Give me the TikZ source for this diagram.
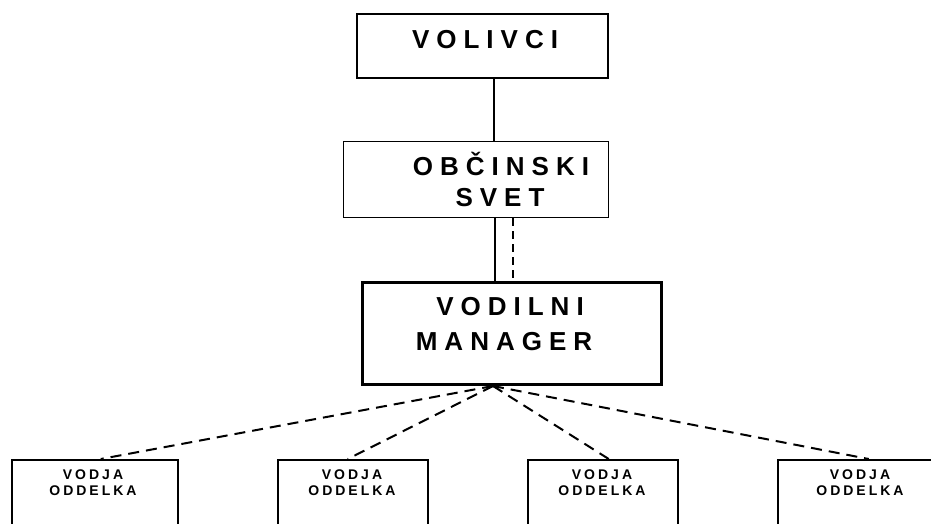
\documentclass[tikz,border=0pt]{standalone}
\usepackage{fontspec}
\setmainfont{Liberation Sans}
\newlength\lsp
\makeatletter
\def\spacedtext#1{\spaced@a#1\@nil}
\def\spaced@a#1#2\@nil{#1\if\relax\detokenize{#2}\relax\else\kern\lsp\spaced@a#2\@nil\fi}
\makeatother
\tikzset{
  box/.style={draw=black, line width=1.5pt, rectangle, inner sep=0pt, anchor=north west},
  thinbox/.style={box, line width=1.2pt},
  thickbox/.style={box, line width=3pt},
  big/.style={inner sep=0pt, anchor=base, font=\fontsize{26}{30}\selectfont\bfseries\setlength\lsp{7pt}},
  small/.style={inner sep=0pt, anchor=base, font=\fontsize{14}{16}\selectfont\bfseries\setlength\lsp{3pt}},
  link/.style={line width=2pt},
  dlink/.style={line width=2pt, dash pattern=on 11pt off 7pt},
}
\begin{document}
\begin{tikzpicture}[x=1pt, y=-1pt]
\useasboundingbox (0,0) rectangle (931,523);
\clip (0,0) rectangle (931,523);
% boxes
\node[box, minimum width=251pt, minimum height=64pt] (vol) at (356,13) {};
\node[thinbox, minimum width=265pt, minimum height=76pt] (obc) at (343,141) {};
\node[thickbox, minimum width=299pt, minimum height=102pt] (vm) at (361,281) {};
\node[box, minimum width=166pt, minimum height=100pt] (od1) at (11,459) {};
\node[box, minimum width=150pt, minimum height=100pt] (od2) at (277,459) {};
\node[box, minimum width=150pt, minimum height=100pt] (od3) at (527,459) {};
\node[box, minimum width=166pt, minimum height=100pt] (od4) at (777,459) {};
% texts
\node[big] (volt) at (485,48) {\spacedtext{VOLIVCI}};
\node[big] (obct1) at (501,175) {\spacedtext{OBČINSKI}};
\node[big] (obct2) at (500,206) {\spacedtext{SVET}};
\node[big] (vmt1) at (510,315) {\spacedtext{VODILNI}};
\node[big] (vmt2) at (504,350) {\spacedtext{MANAGER}};
\foreach \n/\x in {1/93,2/352,3/602,4/860}{
  \node[small] (odt\n a) at (\x,479) {\spacedtext{VODJA}};
  \node[small] (odt\n b) at (\x,495) {\spacedtext{ODDELKA}};
}
% connectors
\coordinate (a1) at (vol.south -| 494,0);
\coordinate (a2) at (obc.north -| 494,0);
\draw[link] (a1) -- (a2);
\coordinate (b1) at (obc.south -| 495,0);
\coordinate (b2) at (vm.north -| 495,0);
\draw[link] (b1) -- (b2);
\coordinate (c1) at (obc.south -| 513,0);
\coordinate (c2) at (vm.north -| 513,0);
\draw[dlink, dash pattern=on 8pt off 5pt] (c1) -- (c2);
\coordinate (hub) at (vm.south -| 493,0);
\draw[dlink] (hub) -- ([xshift=6pt]od1.north);
\draw[dlink] (hub) -- ([xshift=-5pt]od2.north);
\draw[dlink] (hub) -- ([xshift=6pt]od3.north);
\draw[dlink] (hub) -- ([xshift=8pt]od4.north);
\end{tikzpicture}
\end{document}
